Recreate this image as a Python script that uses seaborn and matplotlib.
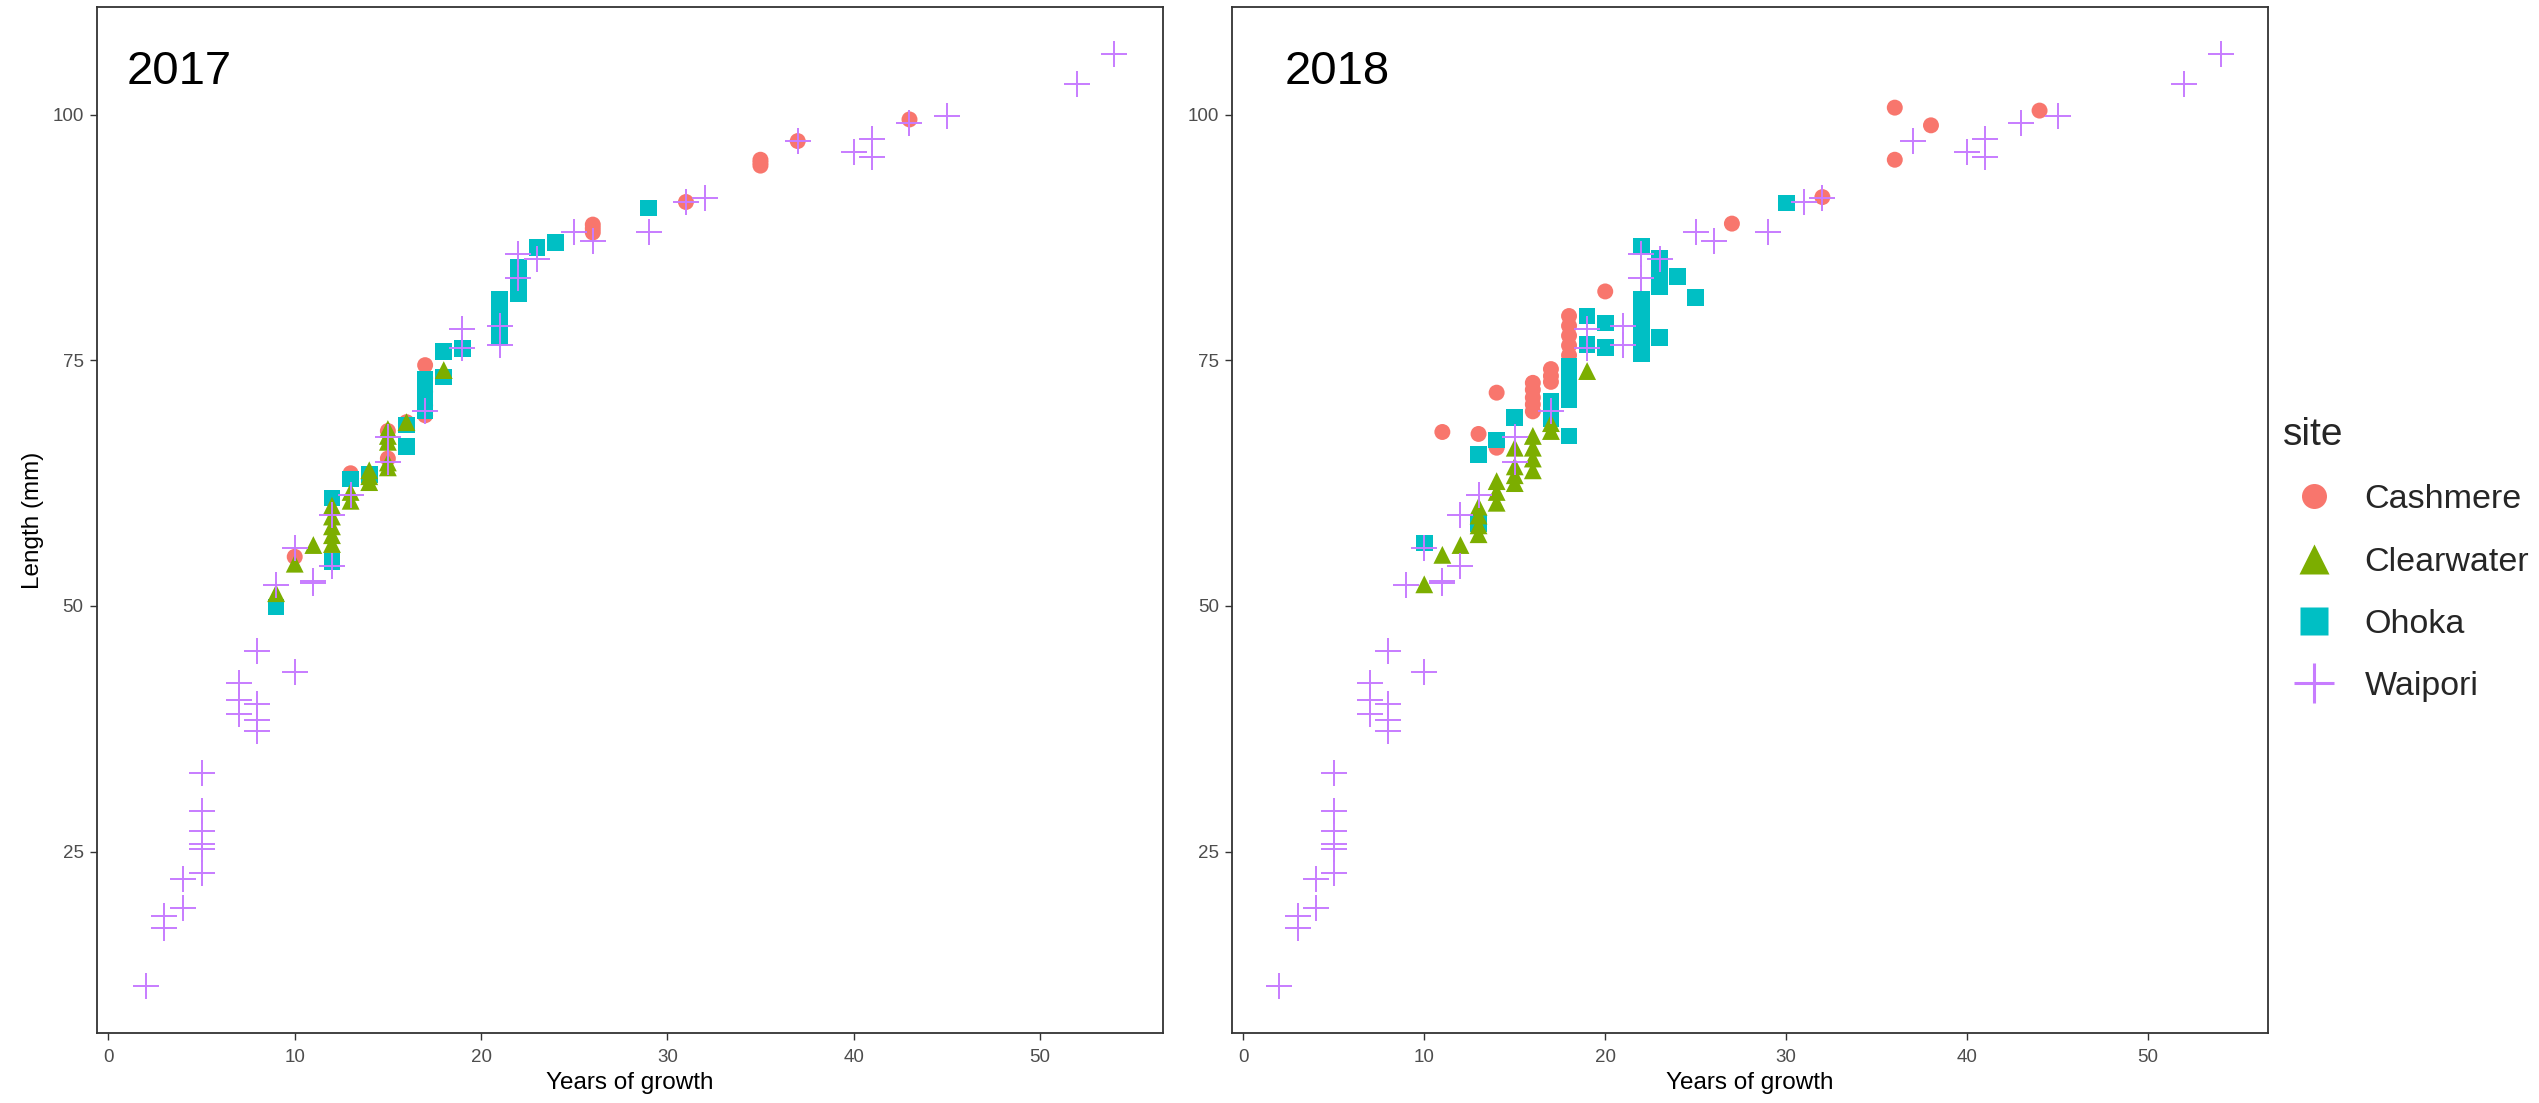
import pandas as pd
import matplotlib.pyplot as plt
import seaborn as sns
from matplotlib.lines import Line2D

# --- dados ---
sites = ['Cashmere', 'Clearwater', 'Ohoka', 'Waipori']
cores = {'Cashmere': '#F8766D', 'Clearwater': '#7CAE00', 'Ohoka': '#00BFC4', 'Waipori': '#C77CFF'}
marcadores = {'Cashmere': 'o', 'Clearwater': '^', 'Ohoka': 's', 'Waipori': '+'}
tamanhos = {'Cashmere': 132, 'Clearwater': 165, 'Ohoka': 144, 'Waipori': 338}
ordem_desenho = ['Cashmere', 'Ohoka', 'Clearwater', 'Waipori']

# Waipori (igual nos dois anos)
waipori_idade = [2, 3, 3, 4, 4, 5, 5, 5, 5, 5, 5, 7, 7, 7, 8, 8, 8, 8, 9, 10, 10, 11, 11, 12, 12,
                 13, 15, 15, 17, 19, 19, 21, 21, 22, 22, 23, 25, 26, 29, 31, 32, 37, 40, 41, 41,
                 43, 45, 52, 54]
waipori_comp = [11.3, 18.5, 17.2, 22.2, 19.3, 33.0, 29.1, 27.1, 25.8, 25.3, 22.8, 42.2, 40.4, 39.0,
                45.4, 40.0, 38.4, 37.3, 52.1, 55.9, 43.3, 52.5, 52.3, 59.3, 54.1, 61.3, 67.2, 64.6,
                69.8, 78.2, 76.2, 78.5, 76.6, 85.8, 83.4, 85.3, 88.0, 87.1, 88.0, 91.1, 91.5, 97.3,
                96.2, 97.5, 95.7, 99.1, 99.8, 103.1, 106.2]

# 2017
cashmere17_idade = [10, 13, 15, 15, 16, 17, 17, 17, 17, 17, 26, 26, 26, 31, 35, 35, 35, 37, 43]
cashmere17_comp = [55.0, 63.5, 67.8, 65.0, 68.7, 74.5, 73.2, 71.8, 70.4, 69.4, 88.8, 88.4, 88.0,
                   91.1, 95.4, 95.1, 94.8, 97.3, 99.5]
clearwater17_idade = [9, 10, 11, 12, 12, 12, 12, 12, 13, 13, 14, 14, 14, 15, 15, 15, 15, 15, 16, 18]
clearwater17_comp = [51.3, 54.3, 56.2, 60.2, 59.1, 58.1, 57.2, 56.3, 61.6, 60.7, 63.8, 63.2, 62.6,
                     68.0, 67.3, 66.7, 64.6, 64.1, 68.7, 74.0]
ohoka17_idade = [9, 12, 12, 13, 14, 16, 16, 17, 17, 17, 17, 18, 18, 19, 21, 21, 21, 21, 21,
                 22, 22, 22, 23, 24, 29]
ohoka17_comp = [49.9, 61.0, 54.5, 62.9, 63.4, 68.4, 66.2, 73.1, 72.0, 71.0, 69.9, 75.9, 73.3, 76.2,
                81.2, 80.2, 79.2, 78.2, 77.3, 84.5, 83.2, 81.8, 86.5, 87.0, 90.5]

# 2018
cashmere18_idade = [11, 13, 14, 14, 16, 16, 16, 16, 16, 17, 17, 17, 18, 18, 18, 18, 18, 18, 18,
                    20, 27, 32, 36, 36, 38, 44]
cashmere18_comp = [67.7, 67.5, 71.7, 66.1, 72.7, 72.0, 71.2, 70.5, 69.8, 74.1, 73.4, 72.8, 79.5,
                   78.5, 77.5, 76.5, 75.5, 74.5, 73.7, 82.0, 88.9, 91.6, 100.7, 95.4, 98.9, 100.4]
clearwater18_idade = [10, 11, 12, 13, 13, 13, 13, 14, 14, 14, 15, 15, 15, 15, 16, 16, 16, 16, 17, 17, 19]
clearwater18_comp = [52.2, 55.2, 56.2, 60.1, 59.2, 58.2, 57.3, 62.7, 61.6, 60.5, 66.1, 64.2, 63.3,
                     62.5, 67.3, 66.1, 65.0, 63.8, 68.6, 67.8, 73.9]
ohoka18_idade = [10, 13, 13, 14, 15, 17, 17, 18, 18, 18, 18, 18, 19, 19, 20, 20, 22, 22, 22, 22,
                 22, 22, 22, 23, 23, 23, 23, 23, 24, 25, 30]
ohoka18_comp = [56.4, 65.4, 58.4, 66.9, 69.2, 70.8, 69.1, 74.4, 73.2, 72.1, 71.0, 67.3, 79.5, 76.6,
                78.8, 76.3, 86.6, 81.2, 80.1, 79.0, 77.9, 76.8, 75.7, 85.4, 84.4, 83.4, 82.5, 77.3,
                83.5, 81.4, 91.0]

x_ticks = [0, 10, 20, 30, 40, 50]
y_ticks = [25, 50, 75, 100]


def montar(ano, dados):
    linhas = []
    for site, (idades, comps) in dados.items():
        for a, c in zip(idades, comps):
            linhas.append({'ano': ano, 'site': site, 'idade': a, 'comprimento': c})
    return linhas


registros = montar('2017', {'Cashmere': (cashmere17_idade, cashmere17_comp),
                            'Clearwater': (clearwater17_idade, clearwater17_comp),
                            'Ohoka': (ohoka17_idade, ohoka17_comp),
                            'Waipori': (waipori_idade, waipori_comp)})
registros += montar('2018', {'Cashmere': (cashmere18_idade, cashmere18_comp),
                             'Clearwater': (clearwater18_idade, clearwater18_comp),
                             'Ohoka': (ohoka18_idade, ohoka18_comp),
                             'Waipori': (waipori_idade, waipori_comp)})
df = pd.DataFrame(registros)

sns.set_theme(style='white')
plt.rcParams['font.family'] = ['Liberation Sans', 'DejaVu Sans']

fig = plt.figure(figsize=(25.39, 11.03), dpi=100)
ax17 = fig.add_axes([0.0383, 0.0635, 0.4197, 0.9302])
ax18 = fig.add_axes([0.4854, 0.0635, 0.4077, 0.9302])

for ax, ano, xtxt in [(ax17, '2017', 0.028), (ax18, '2018', 0.050)]:
    sub = df[df['ano'] == ano]
    for site in ordem_desenho:
        d = sub[sub['site'] == site]
        if marcadores[site] == '+':
            sns.scatterplot(data=d, x='idade', y='comprimento', ax=ax, marker='+',
                            color=cores[site], s=tamanhos[site], linewidth=1.4, legend=False)
        else:
            sns.scatterplot(data=d, x='idade', y='comprimento', ax=ax, marker=marcadores[site],
                            color=cores[site], s=tamanhos[site], linewidth=0, edgecolor='none',
                            legend=False)
    ax.margins(0.05)
    ax.set_xticks(x_ticks)
    ax.set_yticks(y_ticks)
    ax.tick_params(axis='both', direction='out', length=4.8, width=1.0, color='#333333',
                   labelcolor='#4D4D4D', labelsize=13.5, bottom=True, left=True)
    ax.tick_params(axis='x', pad=7)
    ax.tick_params(axis='y', pad=5)
    for sp in ax.spines.values():
        sp.set_color('#333333')
        sp.set_linewidth(1.3)
    ax.set_xlabel('Years of growth', fontsize=17.5, color='black', labelpad=4)
    ax.set_ylabel('')
    ax.grid(False)
    ax.text(xtxt, 0.937, ano, transform=ax.transAxes, fontsize=34, ha='left', va='center',
            color='black')

ax17.set_ylabel('Length (mm)', fontsize=17.5, color='black', labelpad=6)

handles = []
for site in sites:
    if marcadores[site] == '+':
        h = Line2D([], [], linestyle='none', marker='+', markersize=29, markeredgewidth=2.2,
                   color=cores[site])
    else:
        ms = {'o': 18, '^': 22, 's': 20}[marcadores[site]]
        h = Line2D([], [], linestyle='none', marker=marcadores[site], markersize=ms,
                   markerfacecolor=cores[site], markeredgecolor='none', color=cores[site])
    handles.append(h)

fig.legend(handles, sites, title='site', loc='upper left', bbox_to_anchor=(0.8992, 0.622),
           frameon=False, fontsize=24.5, title_fontsize=28, alignment='left',
           handlelength=1.8, handletextpad=0.6, labelspacing=0.92, borderpad=0,
           borderaxespad=0)

fig.savefig('out.png', dpi=100)
